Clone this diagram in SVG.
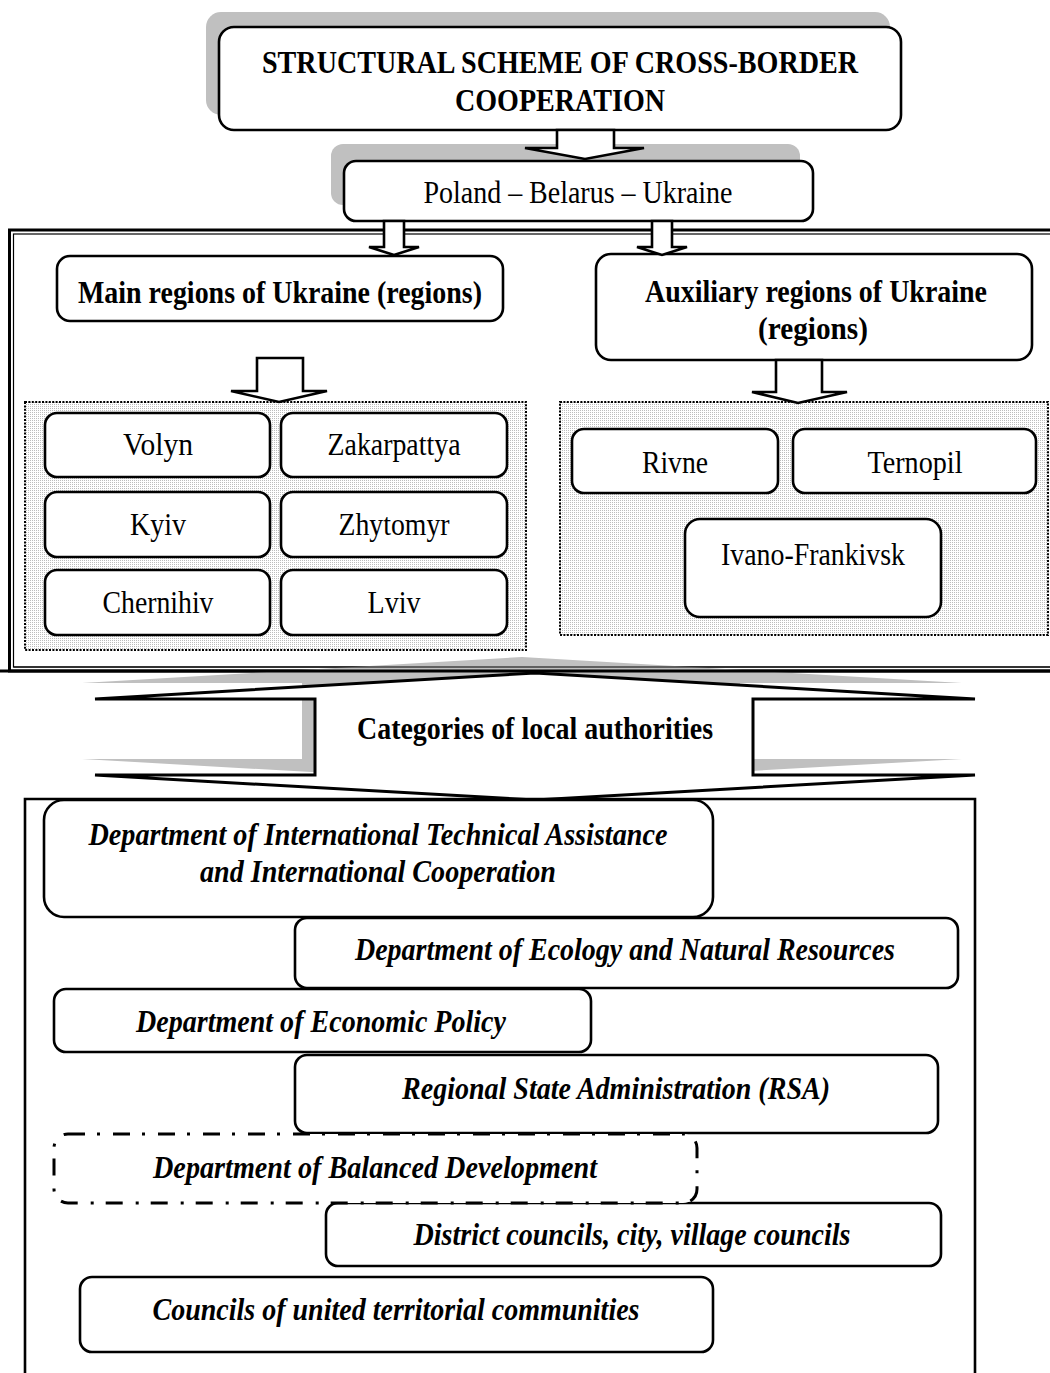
<svg xmlns="http://www.w3.org/2000/svg" width="1050" height="1373" viewBox="0 0 1050 1373">
  <defs>
    <pattern id="stipple" width="2" height="2" patternUnits="userSpaceOnUse">
      <rect width="2" height="2" fill="#ffffff"/>
      <rect width="1" height="1" fill="#bdbdbd"/>
    </pattern>
  </defs>
  <style>
    text { font-family: "Liberation Serif", "Times New Roman", serif; fill: #000; text-anchor: middle; }
    .t { font-size: 32px; }
    .b { font-size: 32px; font-weight: bold; }
    .bi { font-size: 32px; font-weight: bold; font-style: italic; }
    .box { fill: #fff; stroke: #000; stroke-width: 2.6; }
    .shadow { fill: #c0c0c0; stroke: none; }
    .group { fill: url(#stipple); stroke: #000; stroke-width: 2; stroke-dasharray: 2 1.4; }
    .arrow { fill: #fff; stroke: #000; stroke-width: 2.6; stroke-linejoin: miter; }
    .frame { fill: none; stroke: #000; }
    .dashdot { fill: #fff; stroke: #000; stroke-width: 3; stroke-dasharray: 17 12 3 13; }
  </style>

  <!-- outer double frame around the regional part -->
  <g id="regions-frame">
    <rect class="frame" x="9.5" y="230" width="1060" height="441" stroke-width="3"/>
    <rect class="frame" x="13.5" y="234" width="1060" height="433" stroke-width="1.2"/>
  </g>

  <!-- title -->
  <g id="title">
    <rect class="shadow" x="206" y="12" width="684" height="103" rx="15"/>
    <rect class="box" x="219" y="27" width="682" height="103" rx="15"/>
    <text class="b" x="560" y="73" textLength="596" lengthAdjust="spacingAndGlyphs">STRUCTURAL SCHEME OF CROSS-BORDER</text>
    <text class="b" x="560" y="111" textLength="210" lengthAdjust="spacingAndGlyphs">COOPERATION</text>
  </g>

  <!-- Poland - Belarus - Ukraine -->
  <g id="programme">
    <rect class="shadow" x="331" y="144" width="469" height="61" rx="12"/>
    <rect class="box" x="344" y="161" width="469" height="60" rx="12"/>
    <text class="t" x="578" y="203" textLength="309" lengthAdjust="spacingAndGlyphs">Poland – Belarus – Ukraine</text>
  </g>

  <!-- main regions -->
  <g id="main-regions">
    <rect class="box" x="57" y="256" width="446" height="65" rx="13"/>
    <text class="b" x="280" y="303" textLength="404" lengthAdjust="spacingAndGlyphs">Main regions of Ukraine (regions)</text>
  </g>

  <!-- auxiliary regions -->
  <g id="aux-regions">
    <rect class="box" x="596" y="254" width="436" height="106" rx="15"/>
    <text class="b" x="816" y="302" textLength="342" lengthAdjust="spacingAndGlyphs">Auxiliary regions of Ukraine</text>
    <text class="b" x="813" y="339" textLength="110" lengthAdjust="spacingAndGlyphs">(regions)</text>
  </g>

  <!-- group of main regions -->
  <g id="main-group">
    <rect class="group" x="25" y="402" width="501" height="248"/>
  </g>
  <g id="volyn">
    <rect class="box" x="45" y="413" width="225" height="64" rx="12"/>
    <text class="t" x="158" y="455" textLength="70" lengthAdjust="spacingAndGlyphs">Volyn</text>
  </g>
  <g id="zakarpattya">
    <rect class="box" x="281" y="413" width="226" height="64" rx="12"/>
    <text class="t" x="394" y="455" textLength="133" lengthAdjust="spacingAndGlyphs">Zakarpattya</text>
  </g>
  <g id="kyiv">
    <rect class="box" x="45" y="492" width="225" height="65" rx="12"/>
    <text class="t" x="158" y="535" textLength="56" lengthAdjust="spacingAndGlyphs">Kyiv</text>
  </g>
  <g id="zhytomyr">
    <rect class="box" x="281" y="492" width="226" height="65" rx="12"/>
    <text class="t" x="394" y="535" textLength="111" lengthAdjust="spacingAndGlyphs">Zhytomyr</text>
  </g>
  <g id="chernihiv">
    <rect class="box" x="45" y="570" width="225" height="65" rx="12"/>
    <text class="t" x="158" y="613" textLength="111" lengthAdjust="spacingAndGlyphs">Chernihiv</text>
  </g>
  <g id="lviv">
    <rect class="box" x="281" y="570" width="226" height="65" rx="12"/>
    <text class="t" x="394" y="613" textLength="53" lengthAdjust="spacingAndGlyphs">Lviv</text>
  </g>

  <!-- group of auxiliary regions -->
  <g id="aux-group">
    <rect class="group" x="560" y="402" width="488" height="233"/>
  </g>
  <g id="rivne">
    <rect class="box" x="572" y="429" width="206" height="64" rx="12"/>
    <text class="t" x="675" y="473" textLength="66" lengthAdjust="spacingAndGlyphs">Rivne</text>
  </g>
  <g id="ternopil">
    <rect class="box" x="793" y="429" width="243" height="64" rx="12"/>
    <text class="t" x="915" y="473" textLength="95" lengthAdjust="spacingAndGlyphs">Ternopil</text>
  </g>
  <g id="ivano-frankivsk">
    <rect class="box" x="685" y="519" width="256" height="98" rx="15"/>
    <text class="t" x="813" y="565" textLength="184" lengthAdjust="spacingAndGlyphs">Ivano-Frankivsk</text>
  </g>

  <!-- block arrows -->
  <g id="connectors">
    <polygon class="arrow" points="557,130 614,130 614,148 644,148 585,159 525,148 557,148"/>
    <polygon class="arrow" points="384,221 404,221 404,247 419,247 394,255 369,247 384,247"/>
    <polygon class="arrow" points="652,221 672,221 672,247 687,247 662,255 637,247 652,247"/>
    <polygon class="arrow" points="257,358 303,358 303,391 327,391 279,402 231,391 257,391"/>
    <polygon class="arrow" points="776,360 822,360 822,392 847,392 798,403 752,392 776,392"/>
  </g>

  <!-- categories of local authorities -->
  <g id="categories">
    <polygon class="shadow" points="82,683 522,657 962,683 740,683 740,759 962,759 522,784 82,759 302,759 302,683"/>
    <line x1="0" y1="671" x2="1050" y2="671" stroke="#000" stroke-width="3"/>
    <line x1="13.5" y1="667" x2="1050" y2="667" stroke="#000" stroke-width="1.2"/>
    <polygon fill="#fff" stroke="#000" stroke-width="3" stroke-linejoin="miter" points="95,699 535,673 975,699 753,699 753,775 975,775 535,800 95,775 315,775 315,699"/>
    <text class="b" x="535" y="739" textLength="356" lengthAdjust="spacingAndGlyphs">Categories of local authorities</text>
  </g>

  <!-- frame around the authorities -->
  <g id="authorities-frame">
    <polyline fill="none" stroke="#000" stroke-width="2.6" points="25,1380 25,799 975,799 975,1380"/>
  </g>

  <g id="dept-ita">
    <rect class="box" x="44" y="800" width="669" height="117" rx="20"/>
    <text class="bi" x="378" y="845" textLength="579" lengthAdjust="spacingAndGlyphs">Department of International Technical Assistance</text>
    <text class="bi" x="378" y="882" textLength="356" lengthAdjust="spacingAndGlyphs">and International Cooperation</text>
  </g>
  <g id="dept-ecology">
    <rect class="box" x="295" y="918" width="663" height="70" rx="12"/>
    <text class="bi" x="625" y="960" textLength="540" lengthAdjust="spacingAndGlyphs">Department of Ecology and Natural Resources</text>
  </g>
  <g id="dept-economic">
    <rect class="box" x="54" y="989" width="537" height="63" rx="12"/>
    <text class="bi" x="321" y="1032" textLength="370" lengthAdjust="spacingAndGlyphs">Department of Economic Policy</text>
  </g>
  <g id="rsa">
    <rect class="box" x="295" y="1055" width="643" height="78" rx="12"/>
    <text class="bi" x="616" y="1099" textLength="428" lengthAdjust="spacingAndGlyphs">Regional State Administration (RSA)</text>
  </g>
  <g id="district-councils">
    <rect class="box" x="326" y="1203" width="615" height="63" rx="12"/>
    <text class="bi" x="632" y="1245" textLength="437" lengthAdjust="spacingAndGlyphs">District councils, city, village councils</text>
  </g>
  <g id="community-councils">
    <rect class="box" x="80" y="1277" width="633" height="75" rx="12"/>
    <text class="bi" x="396" y="1320" textLength="487" lengthAdjust="spacingAndGlyphs">Councils of united territorial communities</text>
  </g>
  <g id="dept-balanced">
    <rect class="dashdot" x="54" y="1134" width="643" height="69" rx="14"/>
    <text class="bi" x="375" y="1178" textLength="444" lengthAdjust="spacingAndGlyphs">Department of Balanced Development</text>
  </g>
</svg>
